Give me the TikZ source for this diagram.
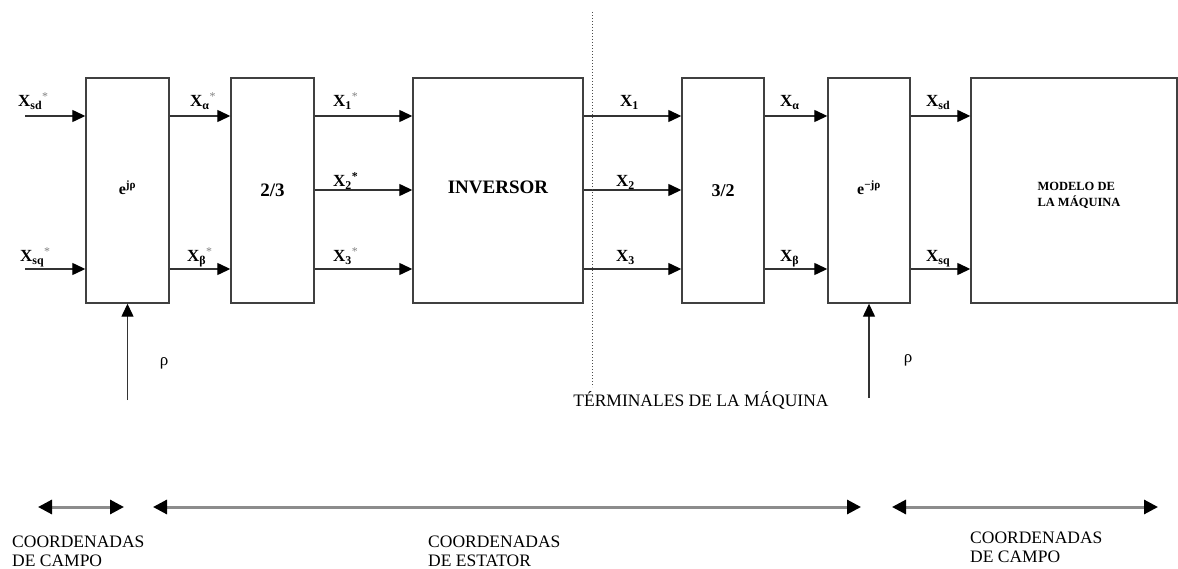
\documentclass[tikz,border=0pt]{standalone}
\usepackage{fontspec}
\setmainfont{Liberation Serif}
\usetikzlibrary{arrows.meta,calc}
\begin{document}
\begin{tikzpicture}[x=1pt,y=-1pt,
  box/.style={draw=black!75,line width=1.4pt,minimum width=#1,minimum height=225pt,inner sep=0pt},
  sig/.style={draw=black!80,line width=1.3pt,-{Triangle[length=13pt,width=12pt,color=black]}},
  span/.style={draw=black!45,line width=3pt,{Triangle[length=14pt,width=14pt,color=black]}-{Triangle[length=14pt,width=14pt,color=black]}},
  lab/.style={anchor=base west,inner sep=0pt,font=\fontsize{17}{20}\selectfont\bfseries},
  btxt/.style={anchor=north west,inner sep=0pt,align=left,font=\fontsize{17.5}{19}\selectfont}]
\useasboundingbox (0,0) rectangle (1178,569);
% rows
\coordinate (r1) at (0,116);
\coordinate (r2) at (0,190);
\coordinate (r3) at (0,269);
% boxes
\node[box=83pt,font=\fontsize{16}{18}\selectfont\bfseries] (b1) at (127.5,190.5) {\raisebox{3pt}[\height][\depth]{e\textsuperscript{jρ}}};
\node[box=83pt,font=\fontsize{19}{21}\selectfont\bfseries] (b2) at (272.5,190.5) {2/3};
\node[box=170pt,font=\fontsize{19}{21}\selectfont\bfseries] (inv) at (498,190.5) {\raisebox{3pt}[\height][\depth]{INVERSOR}};
\node[box=82pt,font=\fontsize{18}{20}\selectfont\bfseries] (b4) at (723,190.5) {3/2};
\node[box=82pt,font=\fontsize{16}{18}\selectfont\bfseries] (b5) at (869,190.5) {\raisebox{3pt}[\height][\depth]{e\textsuperscript{−jρ}}};
\node[box=206pt,font=\fontsize{12.5}{15}\selectfont\bfseries] (bm) at (1074,190.5) {\hspace*{10pt}\raisebox{-5pt}[\height][\depth]{\begin{tabular}{@{}l@{}}MODELO DE\\LA MÁQUINA\end{tabular}}};
% inputs
\coordinate (in1) at (25,116);
\coordinate (in2) at (25,269);
\draw[sig] (in1) -- (b1.west |- r1);
\draw[sig] (in2) -- (b1.west |- r3);
\draw[sig] (b1.east |- r1) -- (b2.west |- r1);
\draw[sig] (b1.east |- r3) -- (b2.west |- r3);
\draw[sig] (b2.east |- r1) -- (inv.west |- r1);
\draw[sig] (b2.east |- r2) -- (inv.west |- r2);
\draw[sig] (b2.east |- r3) -- (inv.west |- r3);
\draw[sig] (inv.east |- r1) -- (b4.west |- r1);
\draw[sig] (inv.east |- r2) -- (b4.west |- r2);
\draw[sig] (inv.east |- r3) -- (b4.west |- r3);
\draw[sig] (b4.east |- r1) -- (b5.west |- r1);
\draw[sig] (b4.east |- r3) -- (b5.west |- r3);
\draw[sig] (b5.east |- r1) -- (bm.west |- r1);
\draw[sig] (b5.east |- r3) -- (bm.west |- r3);
% labels
\node[lab] (l1) at (18,107) {X\textsubscript{sd}\textsuperscript{\mdseries\textcolor{gray}{*}}};
\node[lab] (l2) at (20,262) {X\textsubscript{sq}\textsuperscript{\mdseries\textcolor{gray}{*}}};
\node[lab] (l3) at (190,107) {X\textsubscript{α}\textsuperscript{\mdseries\textcolor{gray}{*}}};
\node[lab] (l4) at (187,262) {X\textsubscript{β}\textsuperscript{\mdseries\textcolor{gray}{*}}};
\node[lab] (l5) at (333,107) {X\textsubscript{1}\textsuperscript{\mdseries\textcolor{gray}{*}}};
\node[lab] (l6) at (333,187) {X\textsubscript{2}\textsuperscript{*}};
\node[lab] (l7) at (333,262) {X\textsubscript{3}\textsuperscript{\mdseries\textcolor{gray}{*}}};
\node[lab] (l8) at (620,107) {X\textsubscript{1}};
\node[lab] (l9) at (616,187) {X\textsubscript{2}};
\node[lab] (l10) at (616,262) {X\textsubscript{3}};
\node[lab] (l11) at (780,107) {X\textsubscript{α}};
\node[lab] (l12) at (780,262) {X\textsubscript{β}};
\node[lab] (l13) at (926,107) {X\textsubscript{sd}};
\node[lab] (l14) at (926,262) {X\textsubscript{sq}};
% rho inputs
\coordinate (p1) at (127.5,400);
\coordinate (p2) at (869,398);
\draw[sig] (p1) -- (b1.south);
\draw[sig] (p2) -- (b5.south);
\node[font=\fontsize{17}{20}\selectfont] (rho1) at (164,363) {ρ};
\node[font=\fontsize{17}{20}\selectfont] (rho2) at (908,360) {ρ};
% terminals
\coordinate (d1) at (592,12);
\coordinate (d2) at (592,387);
\draw[dotted,line width=1pt,black!70] (d1) -- (d2);
\node[font=\fontsize{17.5}{20}\selectfont] (term) at (701,400) {TÉRMINALES DE LA MÁQUINA};
% coordinate spans
\coordinate (s1a) at (38,507);
\coordinate (s1b) at (124,507);
\coordinate (s2a) at (153,507);
\coordinate (s2b) at (861,507);
\coordinate (s3a) at (892,507);
\coordinate (s3b) at (1158,507);
\draw[span] (s1a) -- (s1b);
\draw[span] (s2a) -- (s2b);
\draw[span] (s3a) -- (s3b);
\node[btxt] (t1) at (12,536) {COORDENADAS\\DE CAMPO};
\node[btxt] (t2) at (428,536) {COORDENADAS\\DE ESTATOR};
\node[btxt] (t3) at (970,532) {COORDENADAS\\DE CAMPO};
\end{tikzpicture}
\end{document}
